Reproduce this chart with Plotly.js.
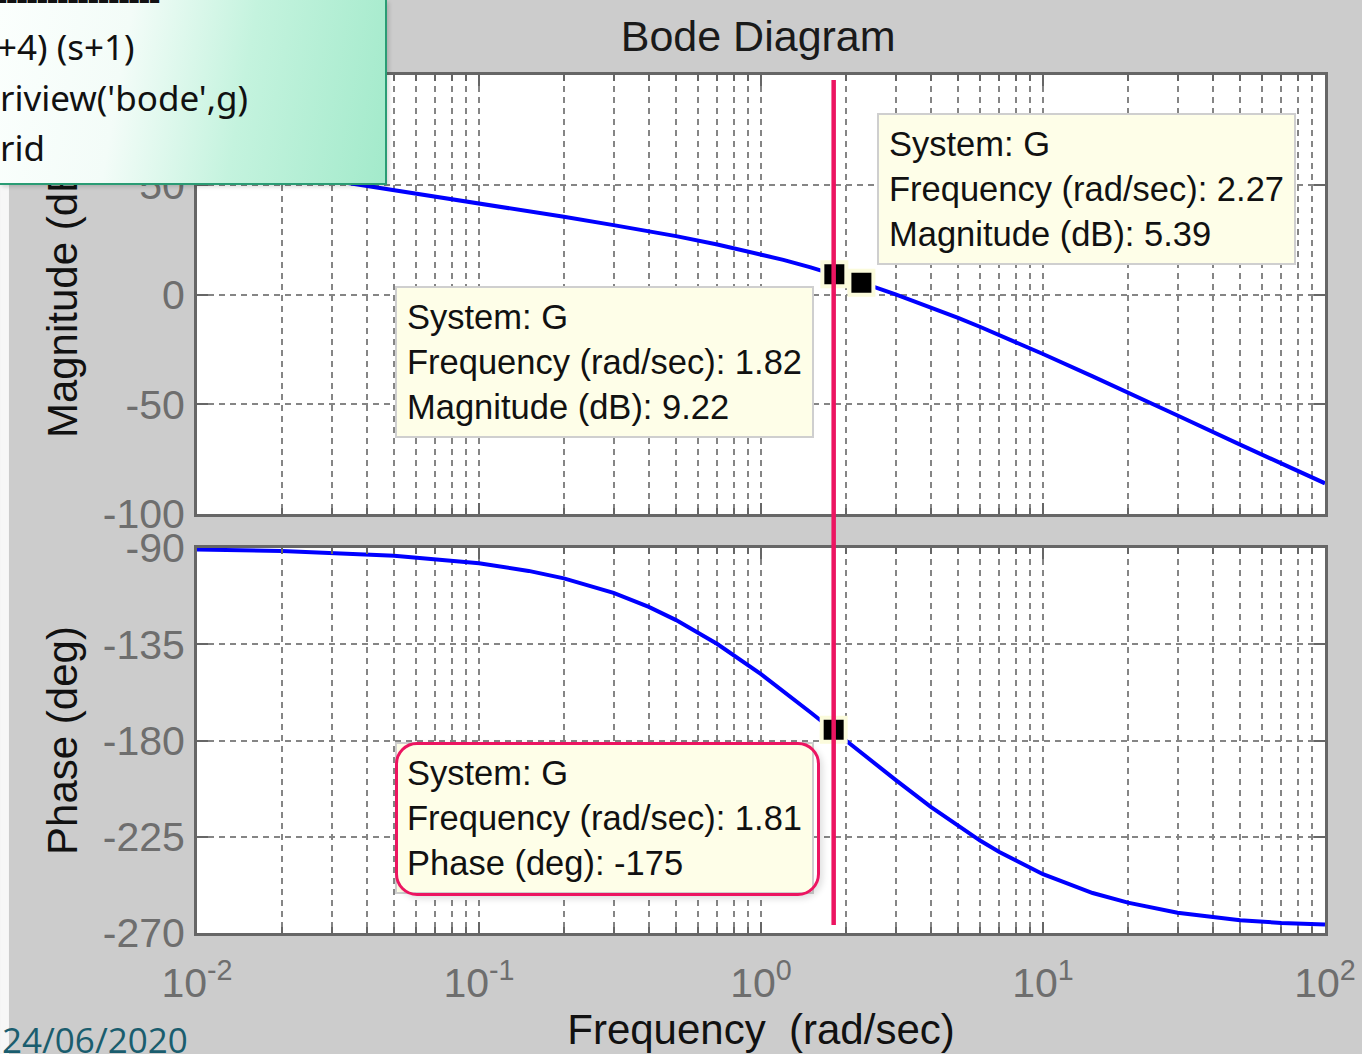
<!DOCTYPE html>
<html>
<head>
<meta charset="utf-8">
<script src="https://cdn.plot.ly/plotly-3.0.1.min.js"></script>
<style>
  html, body { margin:0; padding:0; background:#ffffff; }
  #wrap { position:relative; width:1362px; height:1054px; overflow:hidden; }
  #chart { position:absolute; left:0; top:0; width:1362px; height:1054px; }
  #note {
    position:absolute; left:0; top:0; width:385px; height:183px;
    border-right:2px solid #2a9c74; border-bottom:2px solid #2a9c74;
    background: linear-gradient(100deg, #fbfffd 0%, #f3fcf8 32%, #c4f3de 62%, #a3eacb 100%);
    box-shadow: 2px 2px 4px rgba(0,0,0,0.15);
    font-family: "Comic Sans MS", "Noto Sans", sans-serif; color:#111;
    overflow:hidden;
  }
  #note div { position:absolute; left:0; white-space:pre; font-size:35px; }
  #pinkbox {
    position:absolute; left:395px; top:742px; width:419px; height:148px;
    border:3px solid #ec1561; border-radius:22px; background:transparent;
    box-shadow: 3px 3px 6px rgba(0,0,0,0.12);
  }
</style>
</head>
<body>
<div id="wrap">
  <div id="chart"></div>
  <div id="note">
    <div style="top:-27px; left:-4px; letter-spacing:-1px; font-weight:bold;">----------------</div>
    <div style="top:23px; left:-3px;">+4) (s+1)</div>
    <div style="top:74px;">riview('bode',g)</div>
    <div style="top:124px;">rid</div>
  </div>
  <div id="pinkbox"></div>
</div>
<script>
// ---- data ----
const freq = [0.01,0.02,0.05,0.1,0.15,0.2,0.3,0.4,0.5,0.7,1,1.2,1.5,2,2.5,3,4,5,6,7,10,15,20,30,50,70,100];
const magDb = [61.6,55.6,47.6,41.5,38.0,35.4,31.6,28.9,26.6,22.8,18.3,15.8,12.4,7.6,3.6,0.1,-5.8,-10.6,-14.8,-18.4,-27.1,-37.3,-44.6,-55.1,-68.4,-77.1,-86.0];
const phaseDeg = [-90.7,-91.4,-93.6,-97.1,-100.7,-104.2,-111.0,-117.5,-123.7,-134.9,-149.0,-156.9,-166.9,-180.0,-190.2,-198.4,-211.0,-220.0,-226.9,-232.1,-242.5,-251.3,-255.8,-260.5,-264.0,-265.3,-266.0];

// data tips
const magTipFreq = [1.82, 2.27];
const magTipDb = [9.22, 5.39];
const phaseTipFreq = [1.81];
const phaseTipDeg = [-175];
const cursorFreq = 1.81;

// ticks
const xTickVals = [0.01, 0.1, 1, 10, 100];
const xTickText = ['10<sup>-2</sup>','10<sup>-1</sup>','10<sup>0</sup>','10<sup>1</sup>','10<sup>2</sup>'];
const magTickVals = [-100, -50, 0, 50, 100];
const magTickText = ['-100', '-50', '0', '50', '100'];
const phaseTickVals = [-270, -225, -180, -135, -90];
const phaseTickText = ['-270', '-225', '-180', '-135', '-90'];

const minorVals = [];
[0.01, 0.1, 1, 10].forEach(d => { for (let k = 2; k <= 9; k++) minorVals.push(+(d * k).toPrecision(3)); });

// ---- styling ----
const gridCol = '#858585';
const axCol = '#666666';
const tickFont = {family:'Liberation Sans, Arial, sans-serif', size:41, color:'#6e6e6e'};
const titleFont = {family:'Liberation Sans, Arial, sans-serif', size:42, color:'#111111'};
const tipFont = {family:'Liberation Sans, Arial, sans-serif', size:34.5, color:'#111111'};

const commonX = {
  type:'log', range:[-2, 2],
  tickmode:'array', tickvals:xTickVals,
  showgrid:true, gridcolor:gridCol, gridwidth:2, griddash:'6px,5px',
  showline:true, linecolor:axCol, linewidth:3, mirror:'allticks',
  ticks:'inside', ticklen:11, tickwidth:2, tickcolor:axCol,
  minor:{tickmode:'array', tickvals:minorVals, ticks:'inside', ticklen:6, tickwidth:2, tickcolor:axCol,
         showgrid:true, gridcolor:gridCol, gridwidth:2, griddash:'6px,5px'},
  zeroline:false, automargin:false
};
const commonY = {
  showgrid:true, gridcolor:gridCol, gridwidth:2, griddash:'6px,5px',
  showline:true, linecolor:axCol, linewidth:3, mirror:'allticks',
  ticks:'inside', ticklen:11, tickwidth:2, tickcolor:axCol,
  tickfont:tickFont, zeroline:false, automargin:false, ticklabelstandoff:1
};

const traces = [
  {x:freq, y:magDb, xaxis:'x2', yaxis:'y', type:'scatter', mode:'lines',
   line:{color:'#0000ff', width:4}, hoverinfo:'skip'},
  {x:freq, y:phaseDeg, xaxis:'x', yaxis:'y2', type:'scatter', mode:'lines',
   line:{color:'#0000ff', width:4}, hoverinfo:'skip'},
  {x:magTipFreq, y:magTipDb, xaxis:'x2', yaxis:'y', type:'scatter', mode:'markers',
   marker:{symbol:'square', size:24, color:'#000000', line:{color:'#fbfbdc', width:4}}, hoverinfo:'skip'},
  {x:phaseTipFreq, y:phaseTipDeg, xaxis:'x', yaxis:'y2', type:'scatter', mode:'markers',
   marker:{symbol:'square', size:24, color:'#000000', line:{color:'#fbfbdc', width:4}}, hoverinfo:'skip'}
];

function tipText(f, label, v) {
  return 'System: G<br>Frequency (rad/sec): ' + f + '<br>' + label + ': ' + v;
}
const tipBox = {showarrow:false, align:'left', xanchor:'left', yanchor:'top',
  bgcolor:'#fefee8', bordercolor:'#cfcfcf', borderwidth:2, borderpad:10, font:tipFont};

const layout = {
  width:1362, height:1054,
  paper_bgcolor:'#cccccc', plot_bgcolor:'#ffffff',
  margin:{l:197, r:37, t:75, b:121},
  showlegend:false,
  font:{family:'Liberation Sans, Arial, sans-serif', color:'#111'},
  title:{text:'Bode Diagram', font:{family:'Liberation Sans, Arial, sans-serif', size:43, color:'#1a1a1a'},
         x:0.4975, xref:'paper', xanchor:'center', y:1 - 36/1054, yref:'container', yanchor:'middle'},
  xaxis: Object.assign({}, commonX, {anchor:'y2', domain:[0,1], ticktext:xTickText, tickfont:tickFont,
         ticklabelstandoff:12,
         title:{text:'Frequency\u00a0 (rad/sec)', font:titleFont, standoff:4}}),
  xaxis2: Object.assign({}, commonX, {anchor:'y', domain:[0,1], matches:'x', showticklabels:false}),
  yaxis: Object.assign({}, commonY, {anchor:'x2', domain:[0.4883, 1], range:[-100, 100],
         tickmode:'array', tickvals:magTickVals, ticktext:magTickText,
         title:{text:'Magnitude (dB)', font:titleFont, standoff:13}}),
  yaxis2: Object.assign({}, commonY, {anchor:'x', domain:[0, 0.4487], range:[-270, -90],
         tickmode:'array', tickvals:phaseTickVals, ticktext:phaseTickText,
         title:{text:'Phase (deg)', font:titleFont, standoff:13}}),
  shapes:[
    {type:'line', xref:'x', yref:'paper', x0:cursorFreq, x1:cursorFreq, y0:0.0093, y1:0.9942,
     line:{color:'#ec1561', width:4.5}, layer:'above'},
    {type:'rect', xref:'paper', yref:'paper', x0:-0.1746, x1:-0.1667, y0:-0.141, y1:1.0874,
     fillcolor:'#f7f7f7', line:{width:0}, layer:'below'}
  ],
  annotations:[
    Object.assign({}, tipBox, {xref:'x2', yref:'y', x:0.411, y:82.7,
      text:tipText(magTipFreq[1], 'Magnitude (dB)', magTipDb[1])}),
    Object.assign({}, tipBox, {xref:'x2', yref:'y', x:-1.298, y:3.9,
      text:tipText(magTipFreq[0], 'Magnitude (dB)', magTipDb[0])}),
    Object.assign({}, tipBox, {xref:'x', yref:'y2', x:-1.298, y:-180.7,
      text:tipText(phaseTipFreq[0], 'Phase (deg)', phaseTipDeg[0])}),
    {text:'24/06/2020', showarrow:false, xref:'paper', yref:'paper', x:-0.1746, y:-0.1247,
     xanchor:'left', yanchor:'middle', font:{family:'Open Sans, Noto Sans, sans-serif', size:35, color:'#1a5d6e'}}
  ]
};

Plotly.newPlot('chart', traces, layout, {staticPlot:true, displayModeBar:false});
</script>
</body>
</html>
